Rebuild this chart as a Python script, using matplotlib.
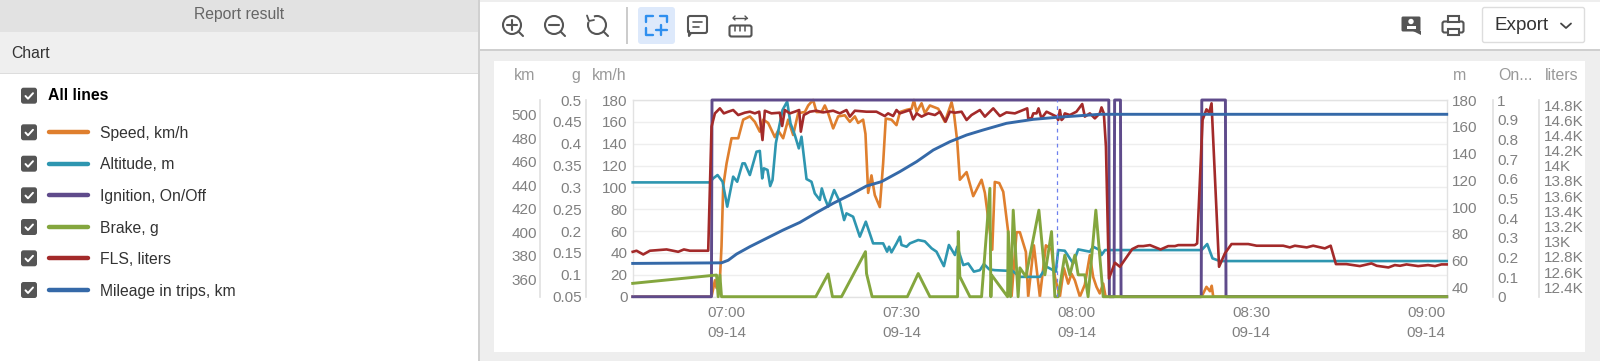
import matplotlib
matplotlib.use('Agg')
import matplotlib.pyplot as plt
from matplotlib.patches import Circle, Rectangle, FancyBboxPatch, Arc, Polygon

plt.rcParams['font.family'] = ['Liberation Sans', 'DejaVu Sans']

# all times are minutes after 07:00
speed_t = [-16.1, -2.58, -2.0, -1.72, -1.15, -0.87, -0.58, 0, 0.85, 2.0, 2.85, 4.0, 4.85, 5.7, 6.28, 7.13, 8.28, 8.85,
           9.7, 10.56, 11.42, 12.28, 13.42, 14, 14.85, 15.42, 16.28, 16.85, 17.42, 18.28, 19.14, 20.28, 21.14, 22, 22.56,
           23.42, 23.82, 24.28, 24.85, 25.42, 26.28, 26.85, 27.3, 28.28, 29.14, 29.73, 30.87, 31.73, 32.13, 32.59, 33.44,
           34.0, 34.87, 36.3, 37.44, 38.59, 38.99, 39.56, 40.0, 41.16, 42.3, 43.73, 44.3, 45.56, 46, 46.76, 47.45,
           48.3, 48.87, 49.73, 50.3, 51.33, 51.73, 52.7, 53.73, 54.76, 55.73, 56.3, 57.16, 57.85, 58.59, 59.16,
           59.73, 60.59, 61.44, 62.3, 62.87, 63.44, 64, 64.59, 65, 81.46, 82.3, 82.9, 83.2, 83.46, 123.5]
speed = [0, 0, 15, 8, 15, 46, 101, 122, 145, 145, 162, 165, 160, 151, 162, 159, 146, 152,
         145, 162, 148, 168, 169, 175, 180, 169, 169, 175, 168, 154, 165, 166, 160, 165, 159,
         162, 149, 95, 111, 93, 82, 122, 163, 162, 157, 169, 171, 172, 180, 169, 177,
         168, 175, 172, 160, 178, 168, 142, 107, 114, 92, 107, 95, 43, 105, 104, 96,
         59, 0, 59, 59, 41, 0, 47, 0, 47, 43, 18, 0, 26, 12, 21,
         15, 0, 11, 38, 18, 9, 3, 12, 0, 0, 9, 5, 10, 0, 0]

altitude_t = [-16.1, -2.87, -2.29, -1.55, -0.69, 0.11, 1.13, 1.82, 2.73, 3.13, 3.99, 5.13, 5.7, 6.11, 6.39, 7.02, 7.48, 7.88,
              8.45, 9.13, 9.59, 10.39, 10.96, 11.7, 12.39, 12.85, 13.71, 14.56, 15.13, 15.99, 16.33, 16.85, 17.42, 18.45,
              19.42, 20.16, 20.56, 21.7, 22.85, 23.88, 25.13, 26.85, 27.53, 27.87, 28.28, 29.14, 29.73, 30, 30.87, 31.44,
              32.87, 34, 35.16, 36, 37.27, 38.13, 39.16, 39.56, 40.59, 41.44, 42.41, 43.44, 44.13, 45.04, 46, 48, 48.87,
              50.3, 53.73, 54.87, 56.47, 56.87, 58, 59.44, 60.3, 62.3, 62.87, 64, 64.3, 64.9, 81.46, 82.43, 83.34, 84.6, 123.5]
altitude = [118.5, 118.5, 121.5, 124, 119, 100.4, 122.8, 119, 132.7, 132.7, 124, 141.4, 142, 121.5, 129, 127.8, 115.8, 120.3,
            147.7, 162.6, 172.5, 178.8, 162.6, 153.9, 143.9, 152.6, 121, 119, 110.3, 105.4, 114, 106.6, 100.4, 112.8,
            104, 90.4, 95.4, 92.9, 78, 89.2, 73, 73, 66.8, 70.5, 66.3, 73, 78, 71.8, 70.5, 73,
            75.5, 74.5, 69.3, 66.8, 56, 71.8, 64.3, 70.5, 56.8, 58, 51.9, 53, 57.6, 53.6, 53, 52.6, 53,
            48, 48, 55.6, 51.9, 68, 67.5, 58, 68.5, 66.8, 70.5, 68, 64.3, 68, 68, 72.5, 61.8, 59.8, 59.8]

ignition_t = [-16.1, -2.6, -2.5, 65.55, 65.65, 66.45, 66.55, 67.55, 67.65, 81.4, 81.5, 85.55, 85.65, 123.5]
ignition = [0, 0, 1, 1, 0, 0, 1, 1, 0, 0, 1, 1, 0, 0]

brake_t = [-16.1, -1.72, -1.44, -1.15, -0.87, 15.3, 17.42, 18.16, 19.71, 23.82, 24, 24.96, 31, 32.87, 34.87, 39.62, 39.73, 40,
           41.73, 43.73, 45.16, 45.33, 45.45, 48.19, 48.3, 48.7, 49.16, 50, 50.3, 51.33, 53.56, 54.59, 55.73, 56.3, 56.87, 58,
           58.87, 59.73, 60.3, 61.44, 62, 63.33, 64.59, 123.5]
brake = [0.0805, 0.0996, 0.05, 0.0996, 0.05, 0.05, 0.102, 0.05, 0.05, 0.153, 0.103, 0.05, 0.05, 0.103, 0.05, 0.05, 0.199, 0.096,
         0.05, 0.05, 0.298, 0.05, 0.0996, 0.05, 0.199, 0.05, 0.248, 0.05, 0.116, 0.096, 0.248, 0.1, 0.199, 0.05, 0.05, 0.145,
         0.1, 0.145, 0.1, 0.1, 0.05, 0.248, 0.05, 0.05]

fls_t = [-16.1, -15.44, -14.29, -13.15, -10.29, -8.29, -7.32, -6.29, -3.15, -2.58, -2, -1.15, -0.47, 0.28, 1.13, 2, 3.13, 4, 4.85,
         5.6, 6.16, 6.56, 7.7, 9.13, 9.53, 10, 10.85, 11.7, 12.45, 12.73, 13.25, 14.28, 15.42, 16.56, 18.28, 19.42,
         20.56, 21.14, 22, 24, 25.7, 27.13, 27.7, 28.56, 29.14, 29.7, 30.6, 31.44, 32, 32.59, 33.44, 34.59, 35.73, 36.6,
         37.56, 38.3, 39.16, 40.3, 41.16, 42, 43.44, 44.3, 45.73, 46.87, 48, 49.44, 51.56, 51.73, 52.3, 52.6, 53.16, 53.5, 54,
         54.87, 56.6, 56.87, 57.16, 57.45, 57.73, 58, 58.87, 60, 60.99, 61.44, 62.3, 63.16, 64, 64.3, 64.7, 65.06, 65.57,
         66.6, 67.46, 69.57, 70.6, 71.46, 72.6, 74.43, 75.74, 76.9, 77.46, 80.3, 80.7, 81.63, 82.3, 82.77, 83.17, 84.46,
         85.46, 86.6, 89.46, 90.9, 95.46, 96.6, 97.46, 99.5, 100.6, 102.6, 103.6, 104.5, 106.3, 108.6, 110.6, 111.5,
         113.5, 114.6, 115.5, 116.6, 118.6, 120.3, 121.5, 122.6, 123.5]
fls = [12868, 12882, 12833, 12882, 12899, 12868, 12899, 12882, 12882, 14515, 14690, 14756, 14690, 14712, 14734, 14668, 14699, 14712, 14690,
       14712, 14339, 14725, 14690, 14699, 14524, 14734, 14690, 14712, 14734, 14449, 14668, 14712, 14725, 14703, 14725, 14690,
       14734, 14647, 14725, 14712, 14712, 14655, 14690, 14655, 14734, 14690, 14712, 14734, 14611, 14690, 14647, 14690, 14668, 14712,
       14581, 14712, 14699, 14712, 14603, 14668, 14734, 14647, 14756, 14655, 14703, 14690, 14756, 14624, 14624, 14690, 14690, 14756, 14624,
       14712, 14647, 14603, 14734, 14603, 14624, 14690, 14668, 14712, 14813, 14647, 14690, 14624, 14690, 14769, 14690, 14251, 12517,
       12724, 12671, 12904, 12943, 12943, 12956, 12899, 12943, 12943, 12956, 12956, 12978, 14603, 14743, 14699, 14822, 12671,
       12847, 12970, 12970, 12948, 12948, 12926, 12948, 12926, 12948, 12913, 12948, 12706, 12706, 12680, 12715, 12684,
       12662, 12693, 12684, 12702, 12680, 12693, 12680, 12702, 12702]

mileage_t = [-16.1, -0.87, 0.28, 1.71, 4, 6.85, 9.7, 12.56, 15.4, 18.28, 21.14, 24, 26.57, 29.7, 32.6, 35.45, 38.3, 41.16,
             44, 48, 52.6, 56.6, 60.6, 64, 123.5]
mileage = [373.3, 373.8, 376, 381.3, 387.6, 394.7, 401.8, 408.3, 416.6, 424.6, 431.7, 439.4, 443.1, 451.6, 460.2, 470.1, 477.2, 482.9,
           487.2, 492.9, 496.3, 498, 499.4, 500.6, 500.6]

cursor_t = 56.7

x_ticks = [0, 30, 60, 90, 120]
x_labels = ['07:00\n09-14', '07:30\n09-14', '08:00\n09-14', '08:30\n09-14', '09:00\n09-14']
speed_ticks = [0, 20, 40, 60, 80, 100, 120, 140, 160, 180]
alt_ticks = [40, 60, 80, 100, 120, 140, 160, 180]
ign_ticks = [0, 0.1, 0.2, 0.3, 0.4, 0.5, 0.6, 0.7, 0.8, 0.9, 1]
ign_labels = ['0', '0.1', '0.2', '0.3', '0.4', '0.5', '0.6', '0.7', '0.8', '0.9', '1']
brake_ticks = [0.05, 0.1, 0.15, 0.2, 0.25, 0.3, 0.35, 0.4, 0.45, 0.5]
brake_labels = ['0.05', '0.1', '0.15', '0.2', '0.25', '0.3', '0.35', '0.4', '0.45', '0.5']
fls_ticks = [12400, 12600, 12800, 13000, 13200, 13400, 13600, 13800, 14000, 14200, 14400, 14600, 14800]
fls_labels = ['12.4K', '12.6K', '12.8K', '13K', '13.2K', '13.4K', '13.6K', '13.8K', '14K', '14.2K', '14.4K', '14.6K', '14.8K']
km_ticks = [360, 380, 400, 420, 440, 460, 480, 500]

legend_names = ['Speed, km/h', 'Altitude, m', 'Ignition, On/Off', 'Brake, g', 'FLS, liters', 'Mileage in trips, km']
legend_colors = ['#DF7F2E', '#2E96B0', '#5F4B8B', '#84A63E', '#A32A2A', '#3569A8']

W, H = 1600, 361
fig = plt.figure(figsize=(W / 100, H / 100), dpi=100, facecolor='#eeeeee')

# page around the chart, in pixels
bg = fig.add_axes([0, 0, 1, 1], zorder=0)
bg.set_xlim(0, W)
bg.set_ylim(H, 0)
bg.axis('off')


def rect(x0, y0, x1, y1, color):
    bg.add_patch(Rectangle((x0, y0), x1 - x0, y1 - y0, fc=color, ec='none'))


def line(xs, ys, color='#555555', lw=1.5):
    bg.plot(xs, ys, color=color, lw=lw, solid_capstyle='round', solid_joinstyle='round')


def lens(cx, cy):
    bg.add_patch(Circle((cx, cy), 9, fc='none', ec='#555555', lw=1.5))
    line([cx + 6.5, cx + 11], [cy + 6.5, cy + 11])


rect(0, 0, 478, 32, '#e2e2e2')
rect(0, 32, 478, 73, '#efefef')
rect(0, 73, 478, 74, '#dddddd')
rect(0, 74, 478, H, 'white')
rect(478, 0, 479.5, H, '#d0d0d0')
rect(480, 2, W, 49, 'white')
rect(480, 49, W, 51, '#cfcfcf')
rect(494, 61, 1585, 352, 'white')

side_font = 11.3
bg.text(239, 15, 'Report result', ha='center', va='center', fontsize=side_font, color='#666666')
bg.text(11, 53, 'Chart', ha='left', va='center', fontsize=side_font, color='#333333')
bg.text(47.5, 95.5, 'All lines', ha='left', va='center', fontsize=side_font, color='black', fontweight='bold')

box_y = [95.7, 132.3, 163.7, 195.3, 227, 258.3, 290]
for y in box_y:
    bg.add_patch(FancyBboxPatch((22.5, y - 6.5), 13, 13, boxstyle='round,pad=1.5,rounding_size=2.5', fc='#555555', ec='none'))
    line([25.5, 28, 33], [y + 0.3, y + 3, y - 2.5], color='white', lw=1.4)
for y, name, c in zip(box_y[1:], legend_names, legend_colors):
    line([49, 88], [y, y], color=c, lw=3.2)
    bg.text(100, y + 1.2, name, ha='left', va='center', fontsize=side_font, color='#333333')

# toolbar icons
lens(512, 25)
line([507, 517], [25, 25])
line([512, 512], [20, 30])
lens(554, 25)
line([549, 559], [25, 25])
lens(597, 25)
rect(626, 7, 627.5, 44, '#cccccc')
bg.add_patch(FancyBboxPatch((640, 9), 33, 33, boxstyle='round,pad=2,rounding_size=3', fc='#dde9fb', ec='none'))
for xs, ys in [([646, 646, 653], [22, 15.5, 15.5]), ([660, 667, 667], [15.5, 15.5, 22]),
               ([646, 646, 653], [28, 35, 35]), ([655.5, 666.5], [30, 30]), ([661, 661], [25, 35])]:
    line(xs, ys, color='#2f8fef', lw=1.7)
bg.add_patch(FancyBboxPatch((689, 17), 17, 15, boxstyle='round,pad=1,rounding_size=2', fc='none', ec='#555555', lw=1.5))
line([691, 689, 689], [33, 36, 31])
line([693, 702], [21.5, 21.5], lw=1.2)
line([693, 699], [26.5, 26.5], lw=1.2)
bg.add_patch(FancyBboxPatch((730, 26), 21, 10, boxstyle='round,pad=0.5,rounding_size=2', fc='none', ec='#555555', lw=1.5))
for x in [735, 740, 745]:
    line([x, x], [26, 31], lw=1.1)
line([733, 747], [18, 18], lw=1)
line([735, 733, 735], [16, 18, 20], lw=1)
line([745, 747, 745], [16, 18, 20], lw=1)
bg.add_patch(FancyBboxPatch((1402, 17), 18, 14, boxstyle='round,pad=0.5,rounding_size=1.5', fc='#555555', ec='none'))
bg.add_patch(Polygon([[1413, 31], [1421, 31], [1421, 35]], fc='#555555', ec='none'))
bg.add_patch(Circle((1411, 21.5), 2.7, fc='white', ec='none'))
bg.add_patch(Rectangle((1406.5, 25.5), 9, 3.5, fc='white', ec='none'))
bg.add_patch(FancyBboxPatch((1443, 22), 20, 10, boxstyle='round,pad=0.5,rounding_size=2', fc='none', ec='#555555', lw=1.5))
bg.add_patch(Rectangle((1447.5, 16), 11, 6, fc='white', ec='#555555', lw=1.5))
bg.add_patch(Rectangle((1447.5, 29), 11, 6, fc='white', ec='#555555', lw=1.5))
bg.add_patch(FancyBboxPatch((1483, 8), 101, 34, boxstyle='round,pad=0.5,rounding_size=2', fc='white', ec='#dddddd', lw=1))
bg.text(1494, 26, 'Export', ha='left', va='center', fontsize=13.6, color='#333333')
line([1561, 1566, 1571], [23.5, 28, 23.5], color='#444444', lw=1.3)
bg.add_patch(Arc((597, 25), 18, 18, fc='none', ec='white', lw=2.5, theta1=200, theta2=250))
line([587, 589, 594], [15.5, 21, 20], lw=1.3)

# axis units
unit_color = '#999999'
unit_font = 11.4
for x, u in [(535, 'km'), (580.7, 'g'), (626.7, 'km/h')]:
    bg.text(x, 75.5, u, ha='right', va='center', fontsize=unit_font, color=unit_color)
for x, u in [(1452.5, 'm'), (1498, 'On...'), (1544.5, 'liters')]:
    bg.text(x, 75.5, u, ha='left', va='center', fontsize=unit_font, color=unit_color)

# chart axes, one per series
plot_left, plot_right, plot_top, plot_bottom = 632.7, 1446.7, 100, 296.7
ax = fig.add_axes([plot_left / W, 1 - plot_bottom / H, (plot_right - plot_left) / W, (plot_bottom - plot_top) / H], zorder=1)
ax.patch.set_alpha(0)
ax.set_xlim(-16.1, 123.5)
ax.set_xticks(x_ticks)
ax.set_xticklabels(x_labels, linespacing=1.6)
ax.set_ylim(0, 180)
ax.set_yticks(speed_ticks)
tick_color = '#808080'
tick_font = 11
ax.tick_params(axis='x', length=0, pad=6.5, labelsize=tick_font, labelcolor=tick_color)
ax.tick_params(axis='y', length=0, pad=3.6, labelsize=tick_font, labelcolor=tick_color)
ax.grid(axis='y', color='#eeeeee', lw=1)
ax.set_axisbelow(True)
for s in ax.spines.values():
    s.set_color('#e2e2e2')
    s.set_linewidth(1)

lw = 1.9
ax.plot(speed_t, speed, color=legend_colors[0], lw=lw, clip_on=False)


def side_axis(side, offset, ylim, ticks, labels, pad):
    a = ax.twinx()
    a.set_zorder(ax.get_zorder() + len(fig.axes))
    a.patch.set_alpha(0)
    a.set_ylim(*ylim)
    a.set_yticks(ticks)
    a.set_yticklabels(labels)
    if side == 'left':
        a.yaxis.tick_left()
    else:
        a.yaxis.tick_right()
    a.tick_params(axis='y', length=0, pad=pad, labelsize=tick_font, labelcolor=tick_color)
    for s in a.spines.values():
        s.set_visible(False)
    if offset:
        a.spines[side].set_visible(True)
        a.spines[side].set_position(('outward', offset))
        a.spines[side].set_color('#e0e0e0')
        a.spines[side].set_linewidth(1.2)
    return a


ax_alt = side_axis('right', 0, (33.2, 180), alt_ticks, alt_ticks, 3.6)
ax_alt.plot(altitude_t, altitude, color=legend_colors[1], lw=lw, clip_on=False)

ax_ign = side_axis('right', 33.4, (0, 1), ign_ticks, ign_labels, 2.8)
ax_ign.plot(ignition_t, ignition, color=legend_colors[2], lw=2.1, clip_on=False)

ax_brake = side_axis('left', 33.6, (0.05, 0.5), brake_ticks, brake_labels, 3)
ax_brake.plot(brake_t, brake, color=legend_colors[3], lw=2.1, clip_on=False)

ax_fls = side_axis('right', 66.5, (12277, 14866), fls_ticks, fls_labels, 3.4)
ax_fls.plot(fls_t, fls, color=legend_colors[4], lw=lw, clip_on=False)

ax_km = side_axis('left', 66.7, (344.9, 512.8), km_ticks, km_ticks, 2.4)
ax_km.plot(mileage_t, mileage, color=legend_colors[5], lw=2.1, clip_on=False)
ax_km.axvline(cursor_t, color='#6f80ee', lw=0.9, ls=(0, (3, 3)))

fig.savefig('out.png', dpi=100, facecolor=fig.get_facecolor())
